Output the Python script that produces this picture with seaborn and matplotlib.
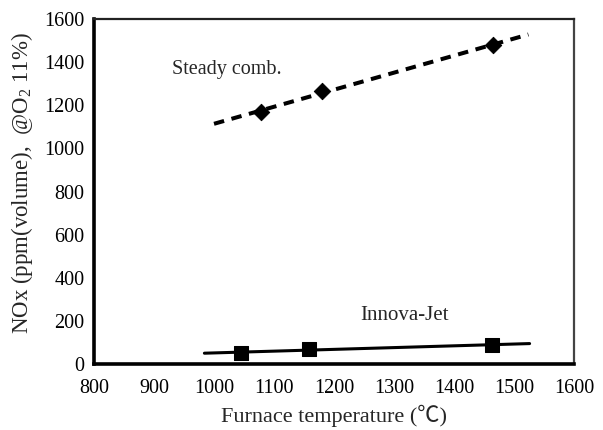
import numpy as np
import pandas as pd
import matplotlib
matplotlib.use("Agg")
import matplotlib.pyplot as plt
import seaborn as sns

# Measured NOx emissions versus furnace temperature
steady_temp = [1078, 1180, 1465]
steady_nox = [1170, 1265, 1480]
innova_temp = [1045, 1158, 1463]
innova_nox = [51, 70, 88]

x_ticks = [800, 900, 1000, 1100, 1200, 1300, 1400, 1500, 1600]
y_ticks = [0, 200, 400, 600, 800, 1000, 1200, 1400, 1600]

sns.set_theme(style="white")
plt.rcParams["font.family"] = ["Liberation Serif", "Noto Sans CJK JP", "DejaVu Sans"]
plt.rcParams["mathtext.fontset"] = "custom"
plt.rcParams["mathtext.rm"] = "Liberation Serif"
plt.rcParams["mathtext.it"] = "Liberation Serif:italic"

fig = plt.figure(figsize=(6.03, 4.30), dpi=100)
ax = fig.add_axes([0.1559, 0.1535, 0.796, 0.802])

steady = pd.DataFrame({"temp": steady_temp, "nox": steady_nox})
innova = pd.DataFrame({"temp": innova_temp, "nox": innova_nox})


def trend(df, lo, hi):
    k, b = np.polyfit(df["temp"], df["nox"], 1)
    xs = np.array([lo, hi])
    return pd.DataFrame({"temp": xs, "nox": k * xs + b})


sns.lineplot(data=trend(steady, 1000, 1524), x="temp", y="nox", ax=ax,
             color="black", lw=2.9, linestyle=(0, (2.6, 1.9)))
sns.lineplot(data=trend(innova, 984, 1526), x="temp", y="nox", ax=ax,
             color="black", lw=2.2)
sns.scatterplot(data=steady, x="temp", y="nox", ax=ax, marker="D",
                s=70, color="black", edgecolor="black", zorder=5)
sns.scatterplot(data=innova, x="temp", y="nox", ax=ax, marker="s",
                s=90, color="black", edgecolor="black", zorder=5)

ax.set_xlim(800, 1600)
ax.set_ylim(0, 1600)
ax.set_xticks(x_ticks)
ax.set_yticks(y_ticks)
ax.tick_params(axis="x", direction="in", length=8, width=1, color="#444444",
               labelsize=14.5, pad=11)
ax.tick_params(axis="y", direction="out", length=5, width=1, color="#444444",
               labelsize=14.5, pad=2)
ax.tick_params(axis="both", labelcolor="black")

for side in ("left", "bottom"):
    ax.spines[side].set_linewidth(2.6)
    ax.spines[side].set_color("black")
for side in ("top", "right"):
    ax.spines[side].set_linewidth(1.6)
    ax.spines[side].set_color("#444444")
ax.spines["top"].set_color("#222222")

ax.set_xlabel("Furnace temperature (℃)", fontsize=16)
ax.set_ylabel("NOx (ppm(volume),  @O$_2$ 11%)", fontsize=16.5)
ax.xaxis.set_label_coords(0.5, -0.119)
ax.yaxis.set_label_coords(-0.123, 0.525)

ax.text(930, 1365, "Steady comb.", fontsize=14.5, va="center", ha="left")
ax.text(1243, 227, "Innova-Jet", fontsize=15, va="center", ha="left")

fig.savefig("out.png", dpi=100)
